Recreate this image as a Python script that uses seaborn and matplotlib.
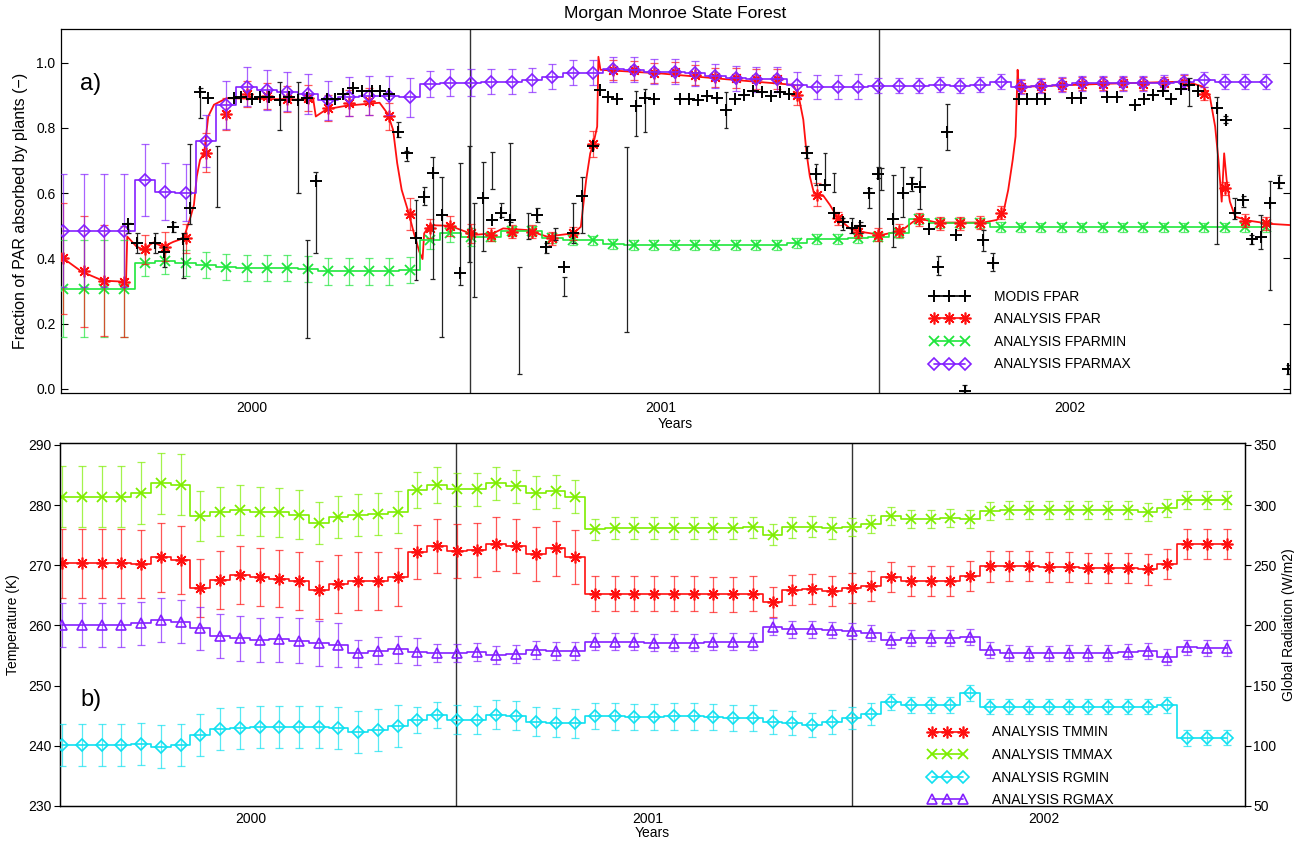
import numpy as np
import matplotlib
matplotlib.use("Agg")
import matplotlib.pyplot as plt
from matplotlib.lines import Line2D
import seaborn as sns

# ---------------- data ----------------
# composite periods: start day and step (days) within the record starting 2000-01-01
composite_start_day = 2.0
composite_step_days = 18.2
n_composites = 60

fpar = [0.400, 0.360, 0.332, 0.329, 0.428, 0.436, 0.462, 0.724, 0.843, 0.904,
        0.898, 0.888, 0.891, 0.860, 0.876, 0.881, 0.835, 0.536, 0.492, 0.500,
        0.477, 0.472, 0.482, 0.482, 0.462, 0.477, 0.751, 0.978, 0.976, 0.969,
        0.972, 0.962, 0.955, 0.952, 0.949, 0.949, 0.901, 0.595, 0.523, 0.482,
        0.472, 0.485, 0.520, 0.508, 0.508, 0.510, 0.540, 0.926, 0.929, 0.932,
        0.935, 0.935, 0.937, 0.935, 0.937, 0.942, 0.904, 0.615, 0.516, 0.508]
fpar_err = [0.17, 0.17, 0.17, 0.17, 0.045, 0.045, 0.045, 0.06, 0.05, 0.04,
            0.04, 0.04, 0.04, 0.04, 0.04, 0.04, 0.04, 0.05, 0.03, 0.03,
            0.03, 0.02, 0.02, 0.02, 0.02, 0.02, 0.04, 0.03, 0.03, 0.03,
            0.03, 0.03, 0.03, 0.03, 0.03, 0.03, 0.03, 0.035, 0.02, 0.02,
            0.02, 0.02, 0.02, 0.02, 0.02, 0.02, 0.02, 0.02, 0.02, 0.02,
            0.02, 0.02, 0.02, 0.02, 0.02, 0.02, 0.02, 0.02, 0.02, 0.02]
fparmin = [0.307, 0.307, 0.307, 0.307, 0.387, 0.393, 0.387, 0.380, 0.373, 0.370,
           0.370, 0.370, 0.367, 0.360, 0.360, 0.360, 0.360, 0.365, 0.457, 0.478,
           0.465, 0.467, 0.485, 0.485, 0.462, 0.457, 0.455, 0.444, 0.441, 0.441,
           0.441, 0.441, 0.441, 0.441, 0.441, 0.441, 0.448, 0.459, 0.459, 0.462,
           0.467, 0.479, 0.520, 0.508, 0.508, 0.508, 0.496, 0.495, 0.495, 0.495,
           0.495, 0.495, 0.495, 0.495, 0.495, 0.495, 0.495, 0.495, 0.495, 0.497]
fparmin_err = [0.148] * 4 + [0.04] * 14 + [0.028] * 3 + [0.015] * 39
fparmax = [0.485, 0.485, 0.485, 0.485, 0.641, 0.605, 0.602, 0.761, 0.870, 0.926,
           0.916, 0.911, 0.904, 0.884, 0.896, 0.898, 0.898, 0.894, 0.935, 0.939,
           0.939, 0.942, 0.942, 0.947, 0.957, 0.969, 0.969, 0.980, 0.978, 0.972,
           0.972, 0.967, 0.959, 0.952, 0.949, 0.949, 0.932, 0.925, 0.925, 0.926,
           0.929, 0.929, 0.929, 0.932, 0.929, 0.932, 0.942, 0.926, 0.929, 0.932,
           0.937, 0.937, 0.937, 0.937, 0.939, 0.942, 0.947, 0.942, 0.942, 0.942]
fparmax_err = ([0.173] * 4 + [0.11, 0.087, 0.086, 0.08, 0.073] + [0.06] * 9 +
               [0.04] * 3 + [0.038] * 19 + [0.023] * 20)

# analysis FPAR daily curve (breakpoints, years since 2000-01-01)
fpar_curve_t = [0.000, 0.006, 0.050, 0.102, 0.151, 0.159, 0.162, 0.185, 0.200, 0.226,
                0.250, 0.275, 0.300, 0.317, 0.325, 0.332, 0.340, 0.350, 0.360, 0.374,
                0.405, 0.617, 0.623, 0.649, 0.698, 0.779, 0.799, 0.812, 0.822, 0.833,
                0.849, 0.863, 0.876, 0.884, 0.888, 0.902, 0.951, 1.000, 1.008, 1.057,
                1.081, 1.139, 1.188, 1.253, 1.271, 1.284, 1.294, 1.302, 1.311, 1.314,
                1.319, 1.464, 1.627, 1.790, 1.803, 1.815, 1.823, 1.831, 1.841, 1.864,
                1.880, 1.900, 1.929, 1.953, 2.006, 2.055, 2.084, 2.107, 2.141, 2.255,
                2.288, 2.304, 2.316, 2.327, 2.334, 2.339, 2.342, 2.353, 2.549, 2.752,
                2.793, 2.809, 2.822, 2.830, 2.838, 2.844, 2.850, 2.858, 2.871, 2.903,
                2.956, 3.009]
fpar_curve_v = [0.416, 0.400, 0.360, 0.332, 0.329, 0.329, 0.467, 0.436, 0.428, 0.449,
                0.436, 0.451, 0.462, 0.528, 0.564, 0.651, 0.702, 0.724, 0.835, 0.871,
                0.891, 0.886, 0.835, 0.857, 0.868, 0.877, 0.843, 0.794, 0.692, 0.610,
                0.544, 0.477, 0.421, 0.398, 0.477, 0.502, 0.500, 0.477, 0.472, 0.477,
                0.492, 0.487, 0.467, 0.477, 0.497, 0.640, 0.722, 0.753, 0.804, 1.018,
                0.978, 0.967, 0.949, 0.932, 0.901, 0.825, 0.722, 0.651, 0.600, 0.592,
                0.564, 0.523, 0.492, 0.482, 0.472, 0.485, 0.513, 0.520, 0.510, 0.510,
                0.518, 0.540, 0.610, 0.702, 0.774, 0.978, 0.921, 0.926, 0.935, 0.942,
                0.926, 0.896, 0.804, 0.702, 0.574, 0.722, 0.641, 0.574, 0.528, 0.516,
                0.506, 0.502]

# MODIS FPAR retrievals (years since 2000-01-01)
modis_t = [0.165, 0.187, 0.230, 0.252, 0.275, 0.299, 0.315, 0.340, 0.360, 0.423,
           0.440, 0.466, 0.487, 0.509, 0.535, 0.558, 0.580, 0.601, 0.623, 0.650,
           0.670, 0.690, 0.713, 0.735, 0.760, 0.780, 0.803, 0.825, 0.845, 0.868,
           0.888, 0.909, 0.931, 0.976, 1.033, 1.055, 1.077, 1.099, 1.165, 1.186,
           1.230, 1.253, 1.275, 1.300, 1.318, 1.338, 1.360, 1.406, 1.428, 1.450,
           1.513, 1.536, 1.558, 1.580, 1.603, 1.626, 1.648, 1.670, 1.693, 1.713,
           1.735, 1.758, 1.781, 1.823, 1.846, 1.868, 1.890, 1.911, 1.933, 1.954,
           1.976, 1.998, 2.035, 2.058, 2.080, 2.100, 2.123, 2.145, 2.167, 2.188,
           2.210, 2.255, 2.278, 2.343, 2.363, 2.386, 2.406, 2.473, 2.495, 2.558,
           2.583, 2.626, 2.648, 2.671, 2.694, 2.715, 2.738, 2.759, 2.781, 2.826,
           2.848, 2.870, 2.891, 2.911, 2.933, 2.956, 2.979, 3.001]
modis_v = [0.506, 0.448, 0.448, 0.421, 0.497, 0.459, 0.554, 0.911, 0.891, 0.891,
           0.894, 0.888, 0.894, 0.894, 0.886, 0.894, 0.886, 0.892, 0.638, 0.888,
           0.888, 0.904, 0.921, 0.914, 0.914, 0.914, 0.904, 0.786, 0.722, 0.462,
           0.589, 0.663, 0.533, 0.355, 0.584, 0.518, 0.540, 0.518, 0.533, 0.436,
           0.373, 0.477, 0.591, 0.743, 0.916, 0.894, 0.888, 0.867, 0.891, 0.888,
           0.888, 0.888, 0.885, 0.898, 0.891, 0.855, 0.888, 0.901, 0.914, 0.911,
           0.898, 0.911, 0.904, 0.724, 0.659, 0.625, 0.538, 0.513, 0.494, 0.500,
           0.600, 0.659, 0.520, 0.602, 0.628, 0.620, 0.489, 0.375, 0.786, 0.472,
           -0.005, 0.455, 0.385, 0.888, 0.888, 0.888, 0.888, 0.891, 0.891, 0.894,
           0.894, 0.870, 0.888, 0.901, 0.914, 0.888, 0.918, 0.932, 0.914, 0.860,
           0.824, 0.540, 0.579, 0.459, 0.467, 0.571, 0.630, 0.060]
# MODIS uncertainty bars (years, upper, lower)
modis_bar_t = [0.165, 0.187, 0.230, 0.252, 0.275, 0.299, 0.315, 0.340, 0.382, 0.535,
               0.580, 0.602, 0.623, 0.825, 0.845, 0.868, 0.888, 0.909, 0.931, 0.976,
               0.998, 1.010, 1.033, 1.055, 1.077, 1.099, 1.121, 1.143, 1.165, 1.186,
               1.208, 1.230, 1.253, 1.275, 1.383, 1.406, 1.428, 1.626, 1.823, 1.846,
               1.868, 1.890, 1.911, 1.933, 1.954, 1.976, 1.998, 2.006, 2.035, 2.058,
               2.080, 2.100, 2.145, 2.167, 2.210, 2.255, 2.278, 2.759, 2.826, 2.848,
               2.870, 2.891, 2.911, 2.933, 2.956, 2.979, 3.001]
modis_bar_hi = [0.508, 0.477, 0.477, 0.436, 0.513, 0.477, 0.751, 0.921, 0.745, 0.942,
                0.942, 0.457, 0.666, 0.819, 0.730, 0.579, 0.620, 0.712, 0.651, 0.692,
                0.745, 0.571, 0.694, 0.727, 0.569, 0.755, 0.373, 0.540, 0.554, 0.447,
                0.492, 0.342, 0.571, 0.651, 0.741, 0.914, 0.918, 0.911, 0.743, 0.690,
                0.722, 0.663, 0.523, 0.523, 0.513, 0.615, 0.681, 0.676, 0.656, 0.681,
                0.649, 0.681, 0.408, 0.873, 0.012, 0.487, 0.416, 0.952, 0.896, 0.837,
                0.584, 0.591, 0.472, 0.533, 0.638, 0.656, 0.074]
modis_bar_lo = [0.477, 0.416, 0.416, 0.375, 0.482, 0.339, 0.506, 0.830, 0.557, 0.794,
                0.600, 0.155, 0.416, 0.773, 0.700, 0.334, 0.564, 0.336, 0.160, 0.319,
                0.388, 0.283, 0.424, 0.612, 0.526, 0.513, 0.046, 0.459, 0.513, 0.416,
                0.457, 0.285, 0.448, 0.477, 0.176, 0.775, 0.788, 0.800, 0.707, 0.625,
                0.625, 0.605, 0.487, 0.477, 0.477, 0.554, 0.646, 0.610, 0.436, 0.528,
                0.608, 0.551, 0.349, 0.733, -0.005, 0.424, 0.363, 0.867, 0.444, 0.814,
                0.520, 0.559, 0.444, 0.428, 0.303, 0.615, 0.046]

# meteorology (bottom panel)
tmmin = [270.3, 270.3, 270.3, 270.3, 270.2, 271.3, 270.9, 266.2, 267.5, 268.4,
         268.1, 267.8, 267.4, 265.9, 266.9, 267.4, 267.4, 268.1, 272.2, 273.2,
         272.4, 272.6, 273.6, 273.2, 271.9, 272.8, 271.4, 265.3, 265.3, 265.3,
         265.3, 265.3, 265.3, 265.2, 265.2, 265.3, 263.9, 265.9, 266.0, 265.8,
         266.2, 266.5, 268.0, 267.4, 267.4, 267.4, 268.2, 269.8, 269.9, 269.9,
         269.7, 269.7, 269.5, 269.5, 269.5, 269.3, 270.2, 273.5, 273.5, 273.5]
tmmin_err = [5.7] * 7 + [4.8] * 11 + [4.5] * 9 + [2.9] * 9 + [2.5] * 24
tmmax = [281.4, 281.4, 281.4, 281.4, 282.0, 283.6, 283.4, 278.2, 278.9, 279.2,
         278.9, 278.8, 278.4, 277.0, 278.0, 278.4, 278.6, 278.9, 282.5, 283.4,
         282.6, 282.6, 283.6, 283.1, 282.1, 282.3, 281.4, 276.0, 276.2, 276.2,
         276.2, 276.2, 276.2, 276.2, 276.2, 276.3, 275.1, 276.3, 276.4, 276.2,
         276.4, 276.9, 278.2, 277.7, 277.7, 277.8, 277.7, 279.1, 279.2, 279.2,
         279.2, 279.2, 279.2, 279.2, 279.2, 278.9, 279.5, 280.9, 280.9, 280.9]
tmmax_err = [5.1] * 7 + [4.1] * 6 + [3.5] * 5 + [3.0] * 2 + [2.7] * 7 + [1.75] * 13 + [1.5] * 20
rgmin = [100.7, 100.7, 100.7, 100.7, 101.5, 99.3, 100.7, 109.0, 113.7, 114.5,
         115.4, 115.4, 115.9, 115.9, 114.5, 111.7, 113.1, 116.4, 121.4, 125.6,
         121.7, 121.4, 125.6, 125.0, 120.0, 119.2, 118.8, 124.7, 124.3, 123.8,
         123.8, 124.3, 124.3, 123.8, 123.0, 123.0, 120.0, 118.8, 117.3, 120.0,
         122.8, 126.4, 136.6, 133.9, 133.9, 133.9, 143.6, 132.5, 132.5, 132.5,
         132.5, 132.5, 132.5, 132.5, 132.5, 132.5, 133.9, 106.2, 106.8, 106.8]
rgmin_err = [17.7] * 7 + [17.5] * 11 + [11.0] * 2 + [12.0] * 7 + [11.0] * 9 + [10.0] * 4 + [9.0] * 2 + [6.5] * 18
rgmax = [200.3, 200.3, 200.3, 200.3, 201.7, 204.5, 203.1, 197.6, 191.2, 189.3,
         187.9, 188.4, 187.3, 185.1, 183.7, 176.8, 179.0, 180.1, 178.2, 176.8,
         177.3, 178.2, 175.4, 176.3, 179.6, 179.0, 179.0, 186.4, 186.4, 186.4,
         185.6, 185.6, 185.6, 186.4, 186.4, 186.4, 198.9, 196.8, 196.8, 196.2,
         195.5, 193.9, 187.9, 189.3, 189.3, 189.3, 190.6, 179.6, 177.3, 176.8,
         176.8, 177.3, 177.3, 177.3, 178.2, 179.0, 174.0, 181.8, 181.0, 181.0]
rgmax_err = [18.0] * 8 + [18.5] * 7 + [11.0] * 4 + [7.5] * 8 + [7.0] * 13 + [6.5] * 20

year_labels = ["2000", "2001", "2002"]

# ---------------- style ----------------
sns.set_theme(style="white")
plt.rcParams['font.family'] = ['Liberation Sans', 'DejaVu Sans']
plt.rcParams['axes.linewidth'] = 0.9
plt.rcParams['axes.edgecolor'] = 'black'
plt.rcParams['text.color'] = 'black'
plt.rcParams['axes.labelcolor'] = 'black'
plt.rcParams['xtick.color'] = 'black'
plt.rcParams['ytick.color'] = 'black'

C_RED = '#ff1010'
C_GRN = '#1fe63c'
C_PUR = '#8420ff'
C_LIME = '#7eee00'
C_CYAN = '#10e0f0'

AST = (8, 2, 0)
MS_AST, MS_X, MS_D, MS_TRI = 8.5, 7, 6, 7

comp_t = 2000 + (composite_start_day + composite_step_days * np.arange(n_composites)) / 365.25

fig = plt.figure(figsize=(12.94, 8.41), dpi=100)
W, H = 1294.0, 841.0
ax1 = fig.add_axes([61 / W, 1 - 393 / H, (1290 - 61) / W, (393 - 29) / H])
ax2 = fig.add_axes([60 / W, 1 - 806 / H, (1245 - 60) / W, (806 - 443) / H])
ax2r = ax2.twinx()


def draw_series(ax, t, v, err, color, marker, ms, mfc, mew, step=True, line=True, z=3):
    ax.errorbar(t, v, yerr=err, fmt='none', ecolor=color, elinewidth=0.9,
                capsize=3, capthick=0.9, alpha=0.7, zorder=z - 1)
    sns.lineplot(x=t, y=v, ax=ax, color=color, lw=1.2 if line else 0,
                 linestyle='-' if line else 'none',
                 drawstyle='steps-mid' if step else 'default',
                 marker=marker, ms=ms, mfc=mfc, mec=color, mew=mew,
                 estimator=None, sort=False, legend=False, zorder=z)


# ---------------- panel a ----------------
for yr in (2001, 2002):
    ax1.axvline(yr, color='#333333', lw=1.0, zorder=1)

sns.lineplot(x=2000 + np.array(fpar_curve_t), y=fpar_curve_v, ax=ax1, color=C_RED,
             lw=1.3, estimator=None, sort=False, legend=False, zorder=3)
draw_series(ax1, comp_t, fparmin, fparmin_err, C_GRN, 'x', MS_X, 'none', 1.3, z=4)
draw_series(ax1, comp_t, fpar, fpar_err, C_RED, AST, MS_AST, 'none', 1.2, line=False, z=5)
draw_series(ax1, comp_t, fparmax, fparmax_err, C_PUR, 'D', MS_D, 'none', 1.2, z=6)

mt = 2000 + np.array(modis_bar_t)
ax1.vlines(mt, modis_bar_lo, modis_bar_hi, color='#222222', lw=0.9, zorder=7)
ax1.hlines(modis_bar_lo, mt - 0.006, mt + 0.006, color='#222222', lw=0.9, zorder=7)
ax1.hlines(modis_bar_hi, mt - 0.006, mt + 0.006, color='#222222', lw=0.9, zorder=7)
sns.scatterplot(x=2000 + np.array(modis_t), y=modis_v, ax=ax1, marker='+', s=65,
                color='black', linewidth=1.4, legend=False, zorder=8)

ax1.set_xlim(2000, 2003.005)
ax1.set_ylim(-0.0123, 1.103)
ax1.set_yticks([0.0, 0.2, 0.4, 0.6, 0.8, 1.0])
ax1.set_yticklabels(["0.0", "0.2", "0.4", "0.6", "0.8", "1.0"], fontsize=10)
ax1.set_xticks([2000.467, 2001.467, 2002.467])
ax1.set_xticklabels(year_labels, fontsize=10)
ax1.tick_params(axis='x', length=0, pad=6)
ax1.tick_params(axis='y', direction='in', length=5, width=0.8, right=True, left=True, pad=4)
ax1.set_xlabel("Years", fontsize=10, labelpad=1)
ax1.set_ylabel("Fraction of PAR absorbed by plants (\u2212)", fontsize=11.5, labelpad=6)
ax1.set_title("Morgan Monroe State Forest", fontsize=12.5, pad=8)
ax1.text(0.0155, 0.832, "a)", transform=ax1.transAxes, fontsize=17, va='baseline')

h1 = [Line2D([], [], color='black', marker='+', ms=8, mew=1.4, lw=1.2),
      Line2D([], [], color=C_RED, marker=AST, ms=MS_AST, mew=1.2, lw=1.2),
      Line2D([], [], color=C_GRN, marker='x', ms=MS_X, mew=1.3, lw=1.2),
      Line2D([], [], color=C_PUR, marker='D', ms=MS_D, mfc='none', mew=1.2, lw=1.2)]
ax1.legend(h1, ["MODIS FPAR", "ANALYSIS FPAR", "ANALYSIS FPARMIN", "ANALYSIS FPARMAX"],
           loc='upper left', bbox_to_anchor=(0.707, 0.284), frameon=False, numpoints=3,
           handlelength=2.8, handletextpad=1.8, labelspacing=0.62, fontsize=10,
           borderpad=0, borderaxespad=0)

# ---------------- panel b ----------------
for yr in (2001, 2002):
    ax2.axvline(yr, color='#333333', lw=1.0, zorder=1)

draw_series(ax2, comp_t, tmmin, tmmin_err, C_RED, AST, MS_AST, 'none', 1.2, z=4)
draw_series(ax2, comp_t, tmmax, tmmax_err, C_LIME, 'x', MS_X, 'none', 1.3, z=4)
draw_series(ax2r, comp_t, rgmin, rgmin_err, C_CYAN, 'D', MS_D, 'none', 1.2, z=4)
draw_series(ax2r, comp_t, rgmax, rgmax_err, C_PUR, '^', MS_TRI, 'none', 1.2, z=4)

ax2.set_xlim(2000, 2002.992)
ax2.set_ylim(229.98, 290.33)
ax2r.set_ylim(49.9, 351.65)
ax2.set_yticks([230, 240, 250, 260, 270, 280, 290])
ax2.set_yticklabels(["230", "240", "250", "260", "270", "280", "290"], fontsize=10)
ax2r.set_yticks([50, 100, 150, 200, 250, 300, 350])
ax2r.set_yticklabels(["50", "100", "150", "200", "250", "300", "350"], fontsize=10)
ax2.set_xticks([2000.483, 2001.483, 2002.483])
ax2.set_xticklabels(year_labels, fontsize=10)
ax2.tick_params(axis='x', length=0, pad=4)
ax2.tick_params(axis='y', direction='out', length=4, width=0.8, pad=2)
ax2r.tick_params(axis='y', direction='out', length=4, width=0.8, pad=2)
ax2.set_xlabel("Years", fontsize=10, labelpad=0)
ax2.set_ylabel("Temperature (K)", fontsize=10, labelpad=6)
ax2r.set_ylabel("Global Radiation (W/m2)", fontsize=10, labelpad=4)
ax2.text(0.0169, 0.2755, "b)", transform=ax2.transAxes, fontsize=17, va='baseline')
for a in (ax1, ax2, ax2r):
    for s in a.spines.values():
        s.set_visible(True)
        s.set_color('black')
        s.set_linewidth(0.9)

h2 = [Line2D([], [], color=C_RED, marker=AST, ms=MS_AST, mew=1.2, lw=1.2),
      Line2D([], [], color=C_LIME, marker='x', ms=MS_X, mew=1.3, lw=1.2),
      Line2D([], [], color=C_CYAN, marker='D', ms=MS_D, mfc='none', mew=1.2, lw=1.2),
      Line2D([], [], color=C_PUR, marker='^', ms=MS_TRI, mfc='none', mew=1.2, lw=1.2)]
ax2r.legend(h2, ["ANALYSIS TMMIN", "ANALYSIS TMMAX", "ANALYSIS RGMIN", "ANALYSIS RGMAX"],
            loc='upper left', bbox_to_anchor=(0.7325, 0.222), frameon=False, numpoints=3,
            handlelength=2.8, handletextpad=1.8, labelspacing=0.62, fontsize=10,
            borderpad=0, borderaxespad=0)

fig.savefig("out.png", dpi=100)
